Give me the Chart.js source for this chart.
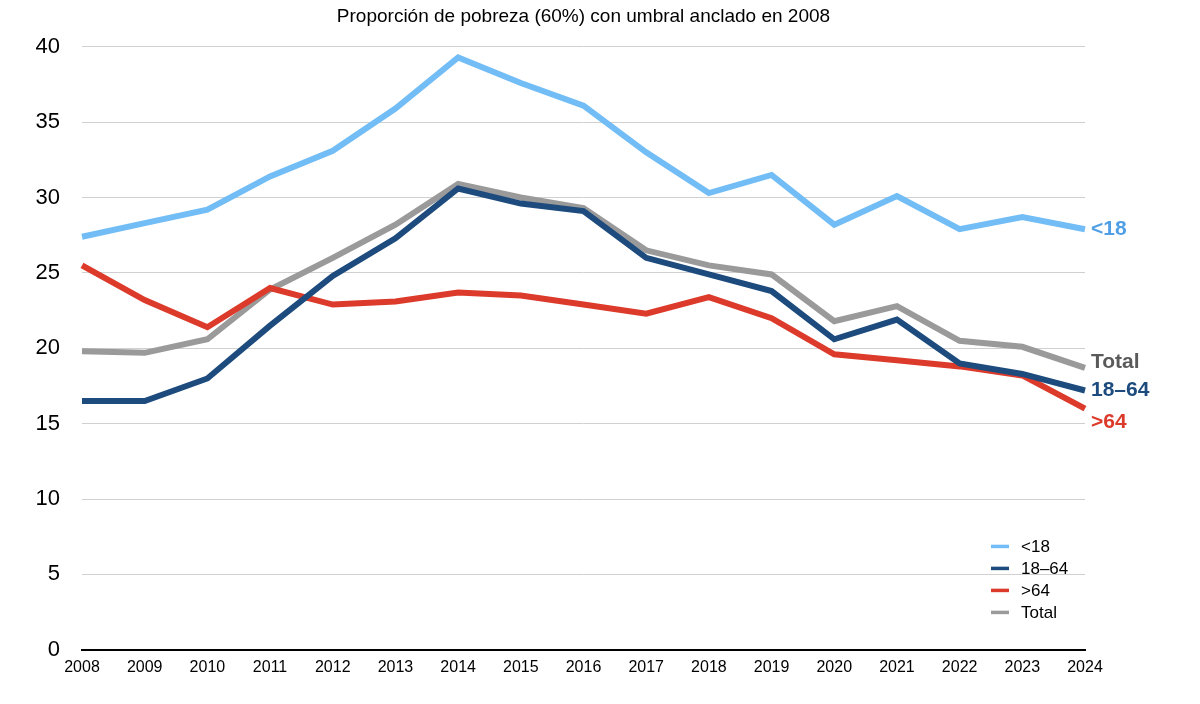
<!DOCTYPE html>
<html>
<head>
<meta charset="utf-8">
<title>Proporción de pobreza</title>
<script src="https://cdn.jsdelivr.net/npm/chart.js@4.4.1/dist/chart.umd.min.js"></script>
<style>
  html, body { margin: 0; padding: 0; background: #fff; }
  #wrap { width: 1200px; height: 704px; }
</style>
</head>
<body>
<div id="wrap"><canvas id="chart"></canvas></div>
<script>
"use strict";

// data
var years = ['2008', '2009', '2010', '2011', '2012', '2013', '2014', '2015', '2016',
	'2017', '2018', '2019', '2020', '2021', '2022', '2023', '2024'];
var menores18 = [27.4, 28.3, 29.2, 31.4, 33.1, 35.9, 39.3, 37.6, 36.1, 33.0, 30.3, 31.5, 28.2, 30.1, 27.9, 28.7, 27.9];
var entre18y64 = [16.5, 16.5, 18.0, 21.5, 24.8, 27.3, 30.6, 29.6, 29.1, 26.0, 24.9, 23.8, 20.6, 21.9, 19.0, 18.3, 17.2];
var mayores64 = [25.5, 23.2, 21.4, 24.0, 22.9, 23.1, 23.7, 23.5, 22.9, 22.3, 23.4, 22.0, 19.6, 19.2, 18.8, 18.2, 16.0];
var total = [19.8, 19.7, 20.6, 23.9, 26.0, 28.2, 30.9, 30.0, 29.3, 26.5, 25.5, 24.9, 21.8, 22.8, 20.5, 20.1, 18.7];
var yTicks = [0, 5, 10, 15, 20, 25, 30, 35, 40];

var seriesNames = ['<18', '18–64', '>64', 'Total'];
var lineColors = ['#72bdf6', '#1d4b7d', '#dc3a2a', '#9a9a9a'];
var labelColors = ['#4f9fe6', '#1d4b7d', '#dc3a2a', '#5a5a5a'];
// pixel nudges for the end labels so they don't collide
var labelNudge = [0, 0, 14, -6];

var FONT = '"Liberation Sans", Arial, Helvetica, sans-serif';

// draws the right-hand end labels and the legend box inside the plot
var endLabels = {
	id: 'endLabels',
	afterDatasetsDraw: function (chart) {
		var ctx = chart.ctx;
		var area = chart.chartArea;
		var yScale = chart.scales.y;
		var order = [0, 3, 1, 2];
		ctx.save();
		ctx.font = 'bold 21px ' + FONT;
		ctx.textAlign = 'left';
		ctx.textBaseline = 'middle';
		order.forEach(function (i) {
			var data = chart.data.datasets[i].data;
			var y = yScale.getPixelForValue(data[data.length - 1]) + labelNudge[i];
			ctx.fillStyle = labelColors[i];
			ctx.fillText(seriesNames[i], area.right + 6, y);
		});

		// legend
		var lx = area.right - 94;
		var ly = yScale.getPixelForValue(5) - 28;
		ctx.font = '17px ' + FONT;
		for (var k = 0; k < seriesNames.length; k++) {
			var yy = ly + k * 22;
			ctx.strokeStyle = lineColors[k];
			ctx.lineWidth = 3.5;
			ctx.beginPath();
			ctx.moveTo(lx, yy);
			ctx.lineTo(lx + 18, yy);
			ctx.stroke();
			ctx.fillStyle = '#000';
			ctx.fillText(seriesNames[k], lx + 30, yy + 1);
		}
		ctx.restore();
	}
};

function makeDataset(i, values, order) {
	return {
		label: seriesNames[i],
		data: values,
		borderColor: lineColors[i],
		backgroundColor: lineColors[i],
		borderWidth: 6,
		pointRadius: 0,
		pointHoverRadius: 0,
		tension: 0,
		fill: false,
		order: order
	};
}

var ctx = document.getElementById('chart');
var myChart = new Chart(ctx, {
	type: 'line',
	data: {
		labels: years,
		datasets: [
			makeDataset(0, menores18, 3),
			makeDataset(1, entre18y64, 0),
			makeDataset(2, mayores64, 1),
			makeDataset(3, total, 2)
		]
	},
	options: {
		responsive: true,
		maintainAspectRatio: false,
		animation: false,
		layout: {
			padding: { left: 0, right: 115, top: 0, bottom: 19 }
		},
		plugins: {
			legend: { display: false },
			tooltip: { enabled: false },
			title: {
				display: true,
				text: 'Proporción de pobreza (60%) con umbral anclado en 2008',
				color: '#000',
				fullSize: false,
				font: { family: FONT, size: 19, weight: 'normal' },
				padding: { top: 5, bottom: 19 }
			}
		},
		scales: {
			x: {
				offset: false,
				grid: { display: false, drawTicks: false },
				border: { display: true, color: '#000', width: 2 },
				ticks: {
					color: '#000',
					padding: 8,
					maxRotation: 0,
					autoSkip: false,
					font: { family: FONT, size: 16 }
				}
			},
			y: {
				min: yTicks[0],
				max: yTicks[yTicks.length - 1],
				afterBuildTicks: function (scale) {
					scale.ticks = yTicks.map(function (v) { return { value: v }; });
				},
				afterFit: function (scale) {
					scale.width = 82;
				},
				grid: { color: '#d0d0d0', lineWidth: 1, drawTicks: false },
				border: { display: false },
				ticks: {
					color: '#000',
					padding: 22,
					font: { family: FONT, size: 22 }
				}
			}
		}
	},
	plugins: [endLabels]
});
</script>
</body>
</html>
